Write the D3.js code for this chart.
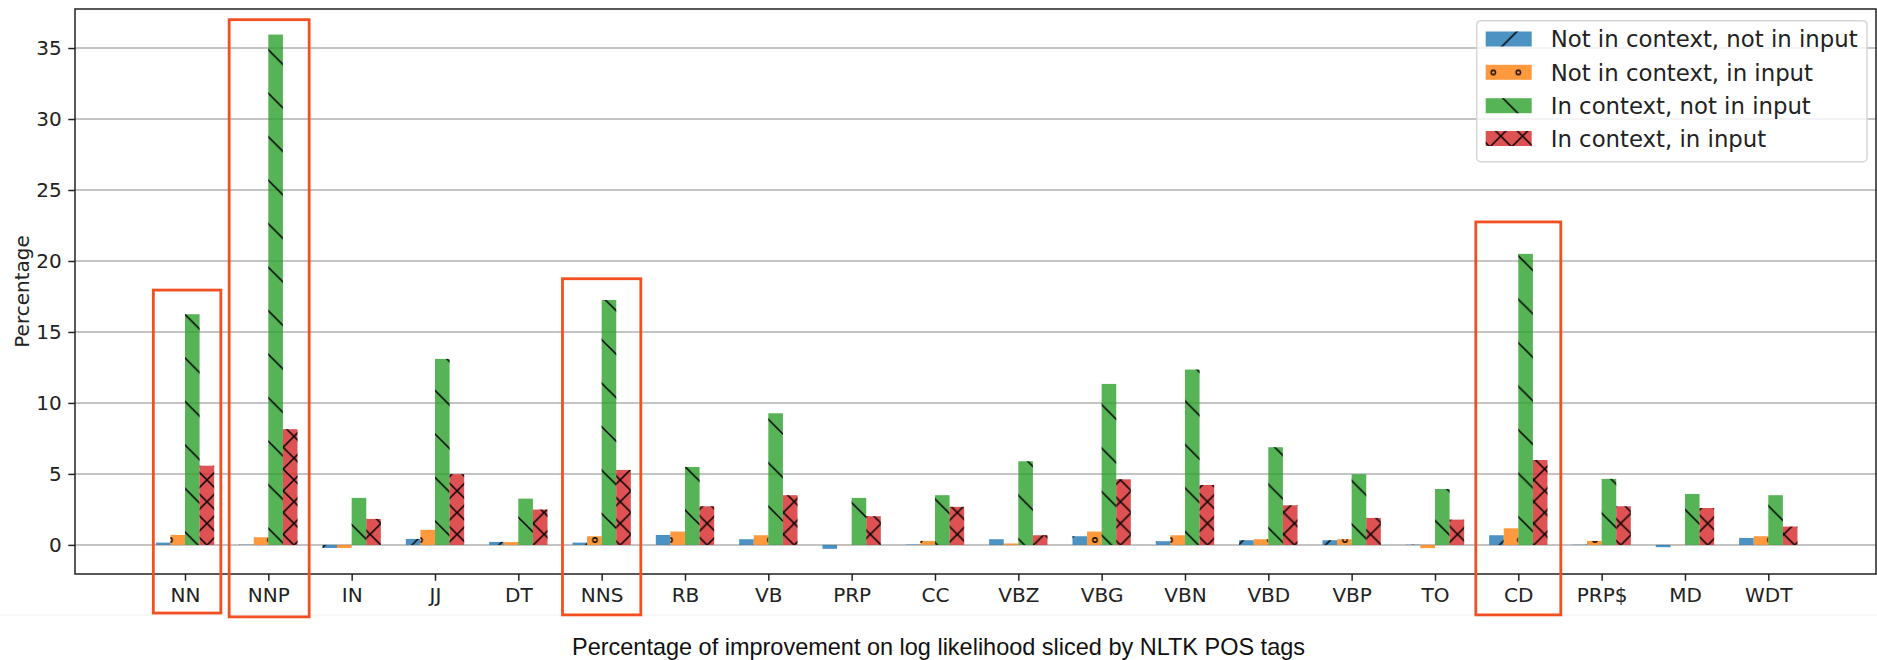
<!DOCTYPE html>
<html>
<head>
<meta charset="utf-8">
<script src="https://cdn.jsdelivr.net/npm/d3@7"></script>
<style>
  body { margin: 0; background: #fff; }
  svg { display: block; }
</style>
</head>
<body>
<div id="chart"></div>
<script>
// POS tags along the x axis
var tags = ["NN", "NNP", "IN", "JJ", "DT", "NNS", "RB", "VB", "PRP", "CC",
  "VBZ", "VBG", "VBN", "VBD", "VBP", "TO", "CD", "PRP$", "MD", "WDT"];

// percentage of improvement, one array per series
var notCtxNotIn = [0.16, 0.02, -0.22, 0.42, 0.21, 0.16, 0.70, 0.40, -0.28, 0.03,
  0.40, 0.61, 0.26, 0.33, 0.33, 0.02, 0.68, 0.02, -0.16, 0.49];
var notCtxIn = [0.70, 0.54, -0.22, 1.06, 0.20, 0.61, 0.94, 0.68, 0.01, 0.28,
  0.10, 0.94, 0.68, 0.40, 0.40, -0.23, 1.17, 0.28, 0.01, 0.61];
var ctxNotIn = [16.25, 35.95, 3.31, 13.1, 3.26, 17.25, 5.49, 9.27, 3.31, 3.5,
  5.89, 11.34, 12.35, 6.88, 4.98, 3.94, 20.5, 4.65, 3.59, 3.5];
var ctxIn = [5.58, 8.15, 1.83, 4.98, 2.49, 5.28, 2.72, 3.5, 2.02, 2.68,
  0.68, 4.62, 4.22, 2.79, 1.9, 1.78, 5.98, 2.72, 2.6, 1.29];

var seriesNames = ["Not in context, not in input", "Not in context, in input",
  "In context, not in input", "In context, in input"];
var yTicks = [0, 5, 10, 15, 20, 25, 30, 35];

// red highlight boxes (tag, top value, bottom value, span in category units)
var highlightTags = ["NN", "NNP", "NNS", "CD"];
var highlightTop = [17.95, 37.0, 18.75, 22.75];
var highlightBottom = [-4.8, -5.07, -4.93, -4.93];
var highlightSpan = [[-0.38, 0.43], [-0.47, 0.49], [-0.47, 0.47], [-0.51, 0.51]];

var caption = "Percentage of improvement on log likelihood sliced by NLTK POS tags";

// layout
var svgWidth = 1877, svgHeight = 660;
var plot = {left: 75, right: 1877, top: 9, bottom: 574};
var colors = ["#1f77b4", "#ff7f0e", "#2ca02c", "#d62728"];
var series = [notCtxNotIn, notCtxIn, ctxNotIn, ctxIn];
var barW = 0.175;

var svg = d3.select("#chart").append("svg")
  .attr("width", svgWidth)
  .attr("height", svgHeight);

var x = d3.scaleLinear().domain([-1.32, 20.32]).range([plot.left, 1878.3]);
var y = d3.scaleLinear().domain([-2.05, 37.75]).range([plot.bottom, plot.top]);

// hatch patterns
var defs = svg.append("defs");
function linePattern(id, w, ox, oy, dirs) {
  var p = defs.append("pattern").attr("id", id)
    .attr("patternUnits", "userSpaceOnUse")
    .attr("x", ox).attr("y", oy).attr("width", w).attr("height", w);
  var d = "";
  if (dirs.indexOf("\\") >= 0) {
    d += `M0,0L${w},${w}M${-w / 2},${w / 2}L${w / 2},${w * 1.5}M${w / 2},${-w / 2}L${w * 1.5},${w / 2}`;
  }
  if (dirs.indexOf("/") >= 0) {
    d += `M0,${w}L${w},0M${-w / 2},${w / 2}L${w / 2},${-w / 2}M${w / 2},${w * 1.5}L${w * 1.5},${w / 2}`;
  }
  p.append("path").attr("d", d).attr("stroke", "#000")
    .attr("stroke-width", 1.5).attr("fill", "none");
}
function circlePattern(id, ox, oy) {
  var p = defs.append("pattern").attr("id", id)
    .attr("patternUnits", "userSpaceOnUse")
    .attr("x", ox).attr("y", oy).attr("width", 25).attr("height", 43.4);
  [[12.5, 10.85], [0, 32.55], [25, 32.55]].forEach(function(c) {
    p.append("circle").attr("cx", c[0]).attr("cy", c[1]).attr("r", 2.2)
      .attr("fill", "none").attr("stroke", "#000").attr("stroke-width", 1.3);
  });
}
linePattern("h0", 43.5, 0, 0, "/");
circlePattern("h1", 7.5, 8.35);
linePattern("h2", 43.5, 0, -1, "\\");
linePattern("h3", 21.75, 0.35, 12.3, "\\/");
// legend copies, shifted to match the reference
linePattern("l0", 43.5, 0, 25.9, "/");
circlePattern("l1", 1480.8, 61.6);
linePattern("l2", 43.5, 0, 30.8, "\\");
linePattern("l3", 21.75, 0, 5.6, "\\/");

// grid
svg.append("g").selectAll("line")
  .data(yTicks).enter().append("line")
  .attr("x1", plot.left).attr("x2", plot.right)
  .attr("y1", d => y(d)).attr("y2", d => y(d))
  .attr("stroke", "#b0b0b0").attr("stroke-width", 1.5);

// bars
series.forEach(function(vals, s) {
  var g = svg.append("g");
  var rows = vals.map((v, i) => ({i: i, v: v}));
  var x0 = d => x(d.i + (s - 2) * barW);
  var bw = x(barW) - x(0);
  g.selectAll("rect.fill").data(rows).enter().append("rect")
    .attr("class", "fill")
    .attr("x", x0).attr("width", bw)
    .attr("y", d => y(Math.max(0, d.v)))
    .attr("height", d => Math.abs(y(d.v) - y(0)))
    .attr("fill", colors[s]).attr("fill-opacity", 0.8);
  g.selectAll("rect.hatch").data(rows).enter().append("rect")
    .attr("class", "hatch")
    .attr("x", x0).attr("width", bw)
    .attr("y", d => y(Math.max(0, d.v)))
    .attr("height", d => Math.abs(y(d.v) - y(0)))
    .attr("fill", `url(#h${s})`);
});

// axes
var xAxis = d3.axisBottom(x)
  .tickValues(d3.range(tags.length))
  .tickFormat(i => tags[i])
  .tickSize(6.7).tickPadding(6.7);
var gx = svg.append("g")
  .attr("transform", `translate(0, ${plot.bottom})`)
  .call(xAxis);
var yAxis = d3.axisLeft(y).tickValues(yTicks).tickSize(6.7).tickPadding(6.7);
var gy = svg.append("g")
  .attr("transform", `translate(${plot.left}, 0)`)
  .call(yAxis);
[gx, gy].forEach(function(g) {
  g.select(".domain").remove();
  g.selectAll(".tick line").attr("stroke", "#222").attr("stroke-width", 1.5);
  g.selectAll(".tick text")
    .attr("font-family", "DejaVu Sans")
    .attr("font-size", 20)
    .attr("fill", "#222");
});

// frame
svg.append("rect")
  .attr("x", plot.left).attr("y", plot.top)
  .attr("width", 1876 - plot.left).attr("height", plot.bottom - plot.top)
  .attr("fill", "none").attr("stroke", "#222").attr("stroke-width", 1.5);

// y label
svg.append("text")
  .attr("transform", `translate(28.5, ${(plot.top + plot.bottom) / 2}) rotate(-90)`)
  .attr("text-anchor", "middle")
  .attr("font-family", "DejaVu Sans")
  .attr("font-size", 20)
  .attr("fill", "#222")
  .text("Percentage");

// legend
var lg = svg.append("g");
lg.append("rect")
  .attr("x", 1476.7).attr("y", 20.7).attr("width", 390.3).attr("height", 141)
  .attr("rx", 4).attr("fill", "#fff").attr("fill-opacity", 0.8)
  .attr("stroke", "#d6d6d6").attr("stroke-width", 1.5);
var rowY = [39, 72.3, 105.7, 138.5];
seriesNames.forEach(function(name, s) {
  lg.append("rect").attr("x", 1485.7).attr("y", rowY[s] - 7.5)
    .attr("width", 46).attr("height", 15)
    .attr("fill", colors[s]).attr("fill-opacity", 0.8);
  lg.append("rect").attr("x", 1485.7).attr("y", rowY[s] - 7.5)
    .attr("width", 46).attr("height", 15)
    .attr("fill", `url(#l${s})`);
  lg.append("text").attr("x", 1550.7).attr("y", rowY[s])
    .attr("dy", "0.36em")
    .attr("font-family", "DejaVu Sans").attr("font-size", 22.8)
    .attr("fill", "#222")
    .text(name);
});

// faint figure border below the plot
svg.append("line")
  .attr("x1", 0).attr("x2", svgWidth).attr("y1", 615).attr("y2", 615)
  .attr("stroke", "#efefef").attr("stroke-width", 1);

// highlight boxes
svg.append("g").selectAll("rect")
  .data(highlightTags).enter().append("rect")
  .attr("x", (t, k) => x(tags.indexOf(t) + highlightSpan[k][0]))
  .attr("width", (t, k) => x(highlightSpan[k][1]) - x(highlightSpan[k][0]))
  .attr("y", (t, k) => y(highlightTop[k]))
  .attr("height", (t, k) => y(highlightBottom[k]) - y(highlightTop[k]))
  .attr("fill", "none")
  .attr("stroke", "#f25022").attr("stroke-width", 2.8);

// caption
svg.append("text")
  .attr("x", 938.5).attr("y", 655)
  .attr("text-anchor", "middle")
  .attr("font-family", "Liberation Sans, Arial, sans-serif")
  .attr("font-size", 23.4)
  .attr("textLength", 733)
  .attr("lengthAdjust", "spacingAndGlyphs")
  .attr("fill", "#111")
  .text(caption);
</script>
</body>
</html>
